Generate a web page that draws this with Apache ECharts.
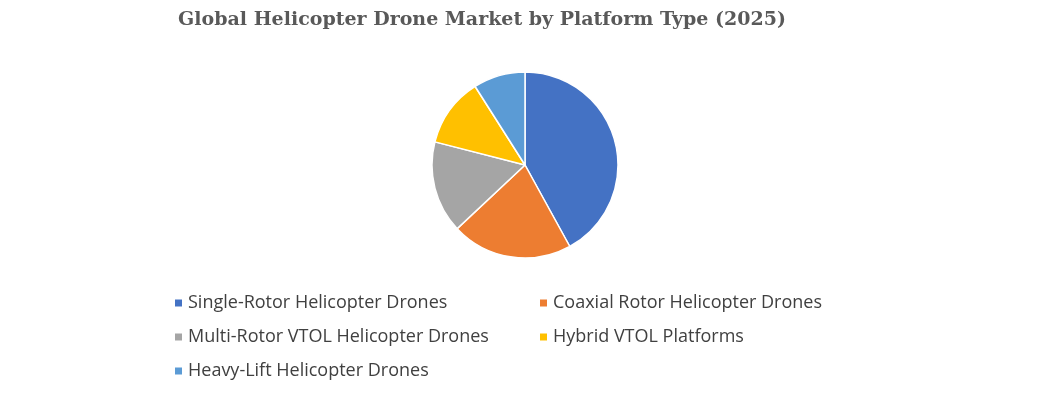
<!DOCTYPE html>
<html><head><meta charset="utf-8">
<script src="https://cdn.jsdelivr.net/npm/echarts@6/dist/echarts.min.js"></script>
<style>html,body{margin:0;padding:0;background:#fff}#c{width:1050px;height:411px}</style>
</head><body><div id="c"></div>
<script>
const categories = ["Single-Rotor Helicopter Drones","Coaxial Rotor Helicopter Drones","Multi-Rotor VTOL Helicopter Drones","Hybrid VTOL Platforms","Heavy-Lift Helicopter Drones"];
const values = [42, 21, 16, 12, 9];
const colors = ["#4472C4","#ED7D31","#A5A5A5","#FFC000","#5B9BD5"];
const chart = echarts.init(document.getElementById('c'));
const legendText = {fontFamily:"Open Sans", fontSize:18, color:"#404040"};
chart.setOption({
  color: colors,
  animation: false,
  title: {text:"Global Helicopter Drone Market by Platform Type (2025)", left:477, top:6, textAlign:"center",
    textStyle:{fontFamily:"DejaVu Serif", fontWeight:"bold", fontSize:19, color:"#595959"}},
  legend: [
    {data:[categories[0],categories[2],categories[4]], orient:"vertical", left:168, top:289, itemWidth:9, itemHeight:9, itemGap:16, icon:"rect", textStyle:legendText},
    {data:[categories[1],categories[3]], orient:"vertical", left:533, top:289, itemWidth:9, itemHeight:9, itemGap:16, icon:"rect", textStyle:legendText}
  ],
  series:[{type:"pie", center:[525,165], radius:93, startAngle:90, clockwise:true,
    label:{show:false}, labelLine:{show:false},
    itemStyle:{borderColor:"#fff", borderWidth:1.5},
    data: categories.map((n,i)=>({name:n, value:values[i]}))}]
});
</script></body></html>
